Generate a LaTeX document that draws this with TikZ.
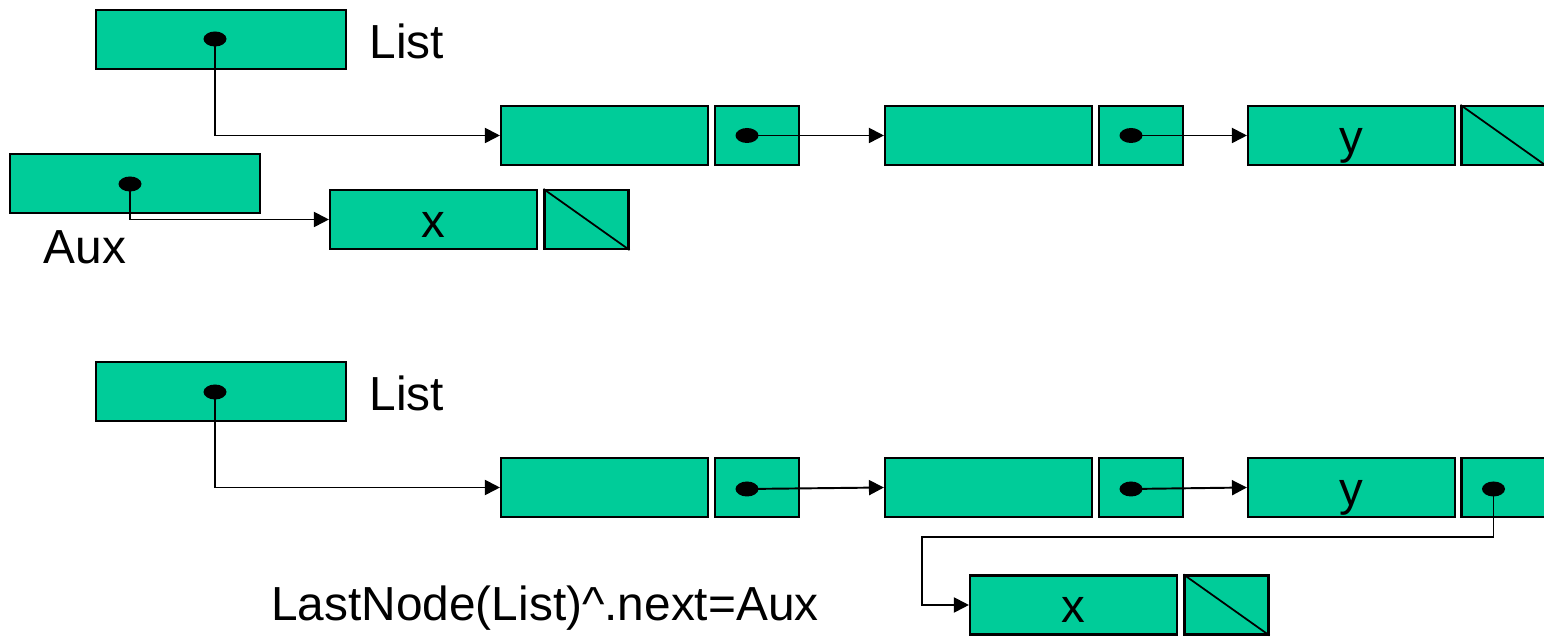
\documentclass[tikz,border=0pt]{standalone}
\usepackage{fontspec}
\setmainfont{Liberation Sans}
\usetikzlibrary{arrows.meta,shapes.geometric}
\definecolor{verde}{RGB}{0,204,153}

\begin{document}
\begin{tikzpicture}[
    caja/.style={draw=black, line width=0.6pt, fill=verde, minimum height=0.59cm, inner sep=0pt, font=\fontsize{13.5}{16}\selectfont},
    dato/.style={caja, minimum width=2.07cm, text height=0.36cm, text depth=0pt},
    enlace/.style={caja, minimum width=0.84cm},
    puntero/.style={caja, minimum width=2.5cm},
    punto/.style={ellipse, fill=black, minimum width=0.23cm, minimum height=0.15cm, inner sep=0pt},
    flecha/.style={line width=0.55pt, -{Triangle[length=0.15cm, width=0.15cm]}},
    texto/.style={inner sep=0pt, font=\fontsize{13.6}{16}\selectfont}
]
    \useasboundingbox (0,0) rectangle (15.44,-6.39);

    % ---- Antes ----
    % Puntero List
    \node[puntero] (list1) at (2.21,-0.395) {};
    \node[punto] (plist1) at (2.15,-0.39) {};
    \node[texto, anchor=west] (etlist1) at (3.69,-0.415) {List};

    % Nodos de la lista
    \node[dato] (n11) at (6.045,-1.355) {};
    \node[enlace] (e11) at (7.57,-1.355) {};
    \node[dato] (n12) at (9.885,-1.355) {};
    \node[enlace] (e12) at (11.41,-1.355) {};
    \node[dato] (n13) at (13.515,-1.355) {y};
    \node[enlace] (e13) at (15.035,-1.355) {};
    \draw[line width=0.5pt] (e13.north west) -- (e13.south east); % nil

    % Punteros
    \node[punto] (p11) at ([xshift=-0.1cm]e11.center) {};
    \node[punto] (p12) at ([xshift=-0.1cm]e12.center) {};
    \draw[flecha] (plist1.center) |- (n11.west);
    \draw[flecha] (p11.center) -- (n12.west);
    \draw[flecha] (p12.center) -- (n13.west);

    % Puntero Aux y nodo nuevo
    \node[puntero] (aux) at (1.35,-1.835) {};
    \node[punto] (paux) at (1.30,-1.84) {};
    \node[texto] (etaux) at (0.85,-2.47) {Aux};
    \node[dato] (x1) at (4.335,-2.195) {x};
    \node[enlace] (ex1) at (5.865,-2.195) {};
    \draw[line width=0.5pt] (ex1.north west) -- (ex1.south east); % nil
    \draw[flecha] (paux.center) |- (x1.west);

    % ---- Despues ----
    % Puntero List
    \node[puntero] (list2) at (2.21,-3.915) {};
    \node[punto] (plist2) at (2.15,-3.92) {};
    \node[texto, anchor=west] (etlist2) at (3.69,-3.935) {List};

    % Nodos de la lista
    \node[dato] (n21) at (6.045,-4.875) {};
    \node[enlace] (e21) at (7.57,-4.875) {};
    \node[dato] (n22) at (9.885,-4.875) {};
    \node[enlace] (e22) at (11.41,-4.875) {};
    \node[dato] (n23) at (13.515,-4.875) {y};
    \node[enlace] (e23) at (15.035,-4.875) {};

    % Nodo enlazado al final
    \node[dato] (x2) at (10.735,-6.05) {x};
    \node[enlace] (ex2) at (12.265,-6.05) {};
    \draw[line width=0.5pt] (ex2.north west) -- (ex2.south east); % nil

    % Punteros
    \node[punto] (p21) at ([xshift=-0.1cm, yshift=-0.015cm]e21.center) {};
    \node[punto] (p22) at ([xshift=-0.1cm, yshift=-0.015cm]e22.center) {};
    \node[punto] (p23) at ([xshift=-0.1cm, yshift=-0.015cm]e23.center) {};
    \coordinate (giro) at (9.22,-5.37);
    \draw[flecha] (plist2.center) |- (n21.west);
    \draw[flecha] (p21.center) -- (n22.west);
    \draw[flecha] (p22.center) -- (n23.west);
    \draw[flecha] (p23.center) |- (giro) |- (x2.west);

    % Instruccion
    \node[texto] (instr) at (5.45,-6.08) {LastNode(List)\textasciicircum.next=Aux};
\end{tikzpicture}
\end{document}
